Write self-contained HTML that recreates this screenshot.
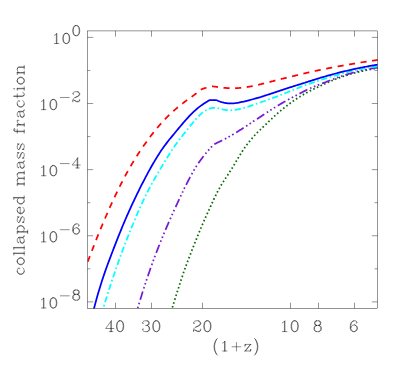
<!DOCTYPE html>
<html><head><meta charset="utf-8"><title>collapsed mass fraction</title>
<style>html,body{margin:0;padding:0;background:#fff;font-family:"Liberation Sans",sans-serif}svg{display:block}</style></head>
<body>
<svg width="407" height="370" viewBox="0 0 407 370">
<rect width="407" height="370" fill="#fff"/>
<defs><clipPath id="cp"><rect x="87.5" y="30.93" width="290.00" height="277.47"/></clipPath></defs>
<g clip-path="url(#cp)" fill="none" stroke-linecap="butt" stroke-linejoin="round">
<path d="M169.00 317.94 L169.19 317.34 M169.92 315.06 L170.00 314.79 L170.40 313.54 M171.12 311.26 L171.25 310.85 L171.60 309.74 M172.33 307.46 L172.50 306.91 L172.81 305.94 M173.53 303.66 L173.75 302.96 L174.01 302.14 M174.72 299.86 L174.75 299.78 L175.20 298.34 M175.92 296.06 L176.00 295.81 L176.40 294.54 M177.12 292.26 L177.25 291.86 L177.60 290.74 M178.33 288.46 L178.50 287.93 L178.82 286.94 M179.55 284.67 L179.75 284.06 L180.04 283.15 M180.79 280.88 L181.00 280.24 L181.29 279.37 M182.04 277.10 L182.25 276.49 L182.55 275.59 M183.33 273.33 L183.50 272.83 L183.85 271.82 M184.65 269.57 L184.75 269.28 L185.19 268.07 M186.00 265.82 L186.25 265.15 L186.56 264.32 M187.39 262.08 L187.50 261.80 L187.96 260.59 M188.81 258.36 L189.00 257.86 L189.38 256.87 M190.24 254.64 L190.25 254.62 L190.82 253.16 M191.69 250.93 L191.75 250.77 L192.27 249.44 M193.14 247.22 L193.25 246.95 L193.73 245.74 M194.61 243.51 L194.75 243.17 L195.20 242.03 M196.09 239.81 L196.25 239.43 L196.69 238.34 M197.59 236.12 L197.75 235.73 L198.20 234.65 M199.11 232.44 L199.25 232.09 L199.72 230.96 M200.64 228.76 L200.75 228.49 L201.26 227.29 M202.19 225.09 L202.25 224.95 L202.82 223.62 M203.77 221.43 L204.00 220.90 L204.41 219.97 M205.39 217.79 L205.53 217.49 L206.05 216.34 M207.04 214.16 L207.06 214.12 L207.71 212.71 M208.70 210.54 L208.85 210.23 L209.37 209.09 M210.37 206.92 L210.38 206.88 L211.03 205.47 M212.02 203.29 L212.17 202.98 L212.69 201.85 M213.70 199.68 L213.70 199.66 L214.37 198.23 M215.40 196.07 L215.49 195.88 L216.09 194.64 M217.15 192.50 L217.28 192.25 L217.88 191.08 M219.00 188.96 L219.07 188.84 L219.78 187.57 M220.97 185.50 L221.13 185.24 L221.79 184.14 M223.05 182.10 L223.19 181.89 L223.91 180.76 M225.21 178.75 L225.24 178.71 L226.01 177.55 L226.09 177.42 M227.41 175.43 L227.55 175.23 L228.29 174.10 M229.61 172.11 L229.85 171.73 L230.48 170.77 M231.76 168.75 L231.91 168.52 L232.60 167.40 M233.84 165.36 L233.96 165.16 L234.66 163.99 M235.88 161.93 L236.02 161.69 L236.69 160.56 M237.88 158.48 L238.03 158.23 L238.68 157.11 M239.91 155.06 L240.00 154.92 L240.74 153.72 L240.75 153.70 M242.04 151.68 L242.21 151.41 L242.91 150.35 M244.26 148.37 L244.43 148.12 L245.17 147.07 L245.17 147.07 M246.58 145.13 L246.65 145.03 L247.39 144.05 L247.53 143.86 M249.00 141.97 L249.12 141.83 L249.86 140.91 L250.00 140.73 M251.53 138.89 L251.58 138.83 L252.32 137.97 L252.57 137.68 M254.16 135.90 L254.28 135.76 L255.02 134.97 L255.24 134.73 M256.89 133.00 L256.98 132.91 L257.72 132.16 L258.02 131.87 M259.73 130.20 L259.93 130.00 L260.67 129.29 L260.88 129.10 M262.62 127.46 L262.63 127.44 L263.36 126.76 L263.78 126.36 M265.52 124.73 L265.55 124.70 L266.28 124.01 L266.68 123.63 M268.41 121.98 L268.46 121.92 L269.19 121.22 L269.56 120.87 M271.28 119.21 L271.38 119.12 L272.11 118.41 L272.42 118.11 M274.15 116.45 L274.29 116.31 L275.02 115.61 L275.31 115.35 M277.10 113.77 L277.25 113.64 L278.00 112.98 L278.30 112.72 M280.12 111.17 L280.25 111.06 L281.00 110.42 L281.34 110.14 M283.18 108.62 L283.25 108.56 L284.00 107.96 L284.42 107.62 M286.30 106.15 L286.50 106.00 L287.25 105.43 L287.57 105.18 M289.50 103.77 L289.50 103.77 L290.25 103.22 L290.78 102.82 M292.72 101.42 L292.75 101.40 L293.50 100.87 L294.03 100.51 M296.00 99.16 L296.25 98.99 L297.00 98.49 L297.33 98.28 M299.34 96.98 L299.50 96.88 L300.25 96.41 L300.69 96.14 M302.73 94.89 L302.75 94.88 L303.50 94.44 L304.11 94.08 M306.19 92.91 L306.25 92.87 L307.00 92.47 L307.59 92.15 M309.71 91.04 L309.75 91.01 L310.50 90.63 L311.12 90.31 M313.26 89.24 L313.50 89.13 L314.25 88.76 L314.70 88.54 M316.86 87.52 L317.00 87.45 L317.75 87.10 L318.30 86.84 M320.47 85.84 L320.50 85.82 L321.25 85.46 L321.91 85.15 M324.07 84.13 L324.25 84.04 L325.00 83.70 L325.52 83.46 M327.69 82.47 L327.75 82.44 L328.50 82.11 L329.15 81.82 M331.34 80.87 L331.50 80.80 L332.25 80.48 L332.81 80.24 M335.01 79.32 L335.25 79.23 L336.00 78.95 L336.51 78.76 M338.75 77.93 L339.00 77.84 L339.75 77.58 L340.25 77.40 M342.51 76.62 L342.75 76.54 L343.50 76.30 L344.03 76.12 M346.31 75.40 L346.50 75.34 L347.25 75.11 L347.83 74.93 M350.12 74.26 L350.25 74.22 L351.00 74.00 L351.65 73.80 M353.95 73.14 L354.00 73.12 L354.75 72.92 L355.48 72.72 M357.80 72.12 L358.00 72.07 L358.75 71.89 L359.35 71.75 M361.68 71.22 L361.75 71.21 L362.50 71.05 L363.24 70.90 M365.59 70.42 L365.75 70.38 L366.50 70.21 L367.14 70.06 M369.48 69.57 L369.50 69.57 L370.25 69.42 L371.00 69.28 L371.04 69.27 M373.40 68.87 L373.50 68.85 L374.25 68.73 L374.98 68.63 M377.35 68.31 L377.50 68.29 L378.25 68.25 L378.94 68.21" stroke="#0a6b0a" stroke-width="1.75"/>
<path d="M134.60 318.85 L134.85 317.99 L135.60 315.42 L135.68 315.16 M136.52 312.28 L136.60 311.99 L136.96 310.75 M137.69 308.25 L137.85 307.71 L138.14 306.72 M138.88 304.22 L139.10 303.49 L139.34 302.69 M140.21 299.82 L140.35 299.34 L141.10 296.90 L141.85 294.48 L142.60 292.09 L142.81 291.41 M143.72 288.55 L143.85 288.16 L144.21 287.03 M145.02 284.56 L145.10 284.31 L145.52 283.04 M146.33 280.57 L146.35 280.52 L146.84 279.05 M147.80 276.21 L147.85 276.08 L148.60 273.89 L149.35 271.72 L150.10 269.58 L150.69 267.90 M151.70 265.07 L151.85 264.67 L152.25 263.57 M153.14 261.13 L153.35 260.55 L153.69 259.63 M154.60 257.19 L154.60 257.18 L155.16 255.69 M156.22 252.88 L156.35 252.55 L157.10 250.60 L157.85 248.67 L158.60 246.75 L159.35 244.85 L159.41 244.68 M160.53 241.90 L160.60 241.71 L161.12 240.41 M162.10 238.00 L162.35 237.40 L162.71 236.52 M163.70 234.12 L163.85 233.77 L164.32 232.64 M165.48 229.88 L165.60 229.59 L166.35 227.83 L167.10 226.07 L167.85 224.33 L168.60 222.59 L168.95 221.79 M170.16 219.04 L170.36 218.59 L170.81 217.58 M171.87 215.21 L171.88 215.19 L172.53 213.75 M173.61 211.39 L173.66 211.28 L174.27 209.93 M175.52 207.20 L175.69 206.85 L176.45 205.19 L177.21 203.55 L177.97 201.91 L178.73 200.27 L179.22 199.22 M180.49 196.50 L180.51 196.47 L181.17 195.05 M182.28 192.70 L182.28 192.70 L182.97 191.26 M184.10 188.91 L184.32 188.45 L184.80 187.48 M186.13 184.79 L186.38 184.30 L187.15 182.77 L187.92 181.26 L188.69 179.78 L189.46 178.31 L190.17 176.97 M191.60 174.34 L191.76 174.05 L192.39 172.94 M193.69 170.69 L193.81 170.48 L194.50 169.31 M195.87 167.10 L196.11 166.71 L196.72 165.75 M198.38 163.25 L198.41 163.20 L199.17 162.09 L199.94 161.01 L200.70 159.95 L201.43 158.92 L202.17 157.92 L202.90 156.95 L203.54 156.12 M205.43 153.79 L205.60 153.58 L206.34 152.71 L206.46 152.57 M208.17 150.61 L208.31 150.45 L209.04 149.62 L209.23 149.41 M210.98 147.48 L211.01 147.44 L211.75 146.68 L212.09 146.34 M214.37 144.39 L214.46 144.32 L215.21 143.83 L215.95 143.40 L216.70 143.02 L217.44 142.66 L218.18 142.32 L218.93 141.98 L219.67 141.63 L220.42 141.27 L221.16 140.91 L221.91 140.54 L222.20 140.40 M224.87 139.02 L224.89 139.01 L225.63 138.61 L226.28 138.26 M228.55 137.01 L228.60 136.98 L229.35 136.55 L229.94 136.21 M232.19 134.91 L232.32 134.83 L233.07 134.39 L233.56 134.09 M236.13 132.53 L236.29 132.43 L237.03 131.97 L237.77 131.51 L238.52 131.05 L239.26 130.58 L240.00 130.11 L240.74 129.64 L241.49 129.17 L242.23 128.69 L242.97 128.22 L243.57 127.83 M246.09 126.20 L246.19 126.13 L246.93 125.65 L247.43 125.33 M249.60 123.90 L249.66 123.86 L250.40 123.38 L250.94 123.02 M253.11 121.59 L253.12 121.58 L253.87 121.09 L254.44 120.71 M256.94 119.05 L257.10 118.95 L257.85 118.46 L258.60 117.97 L259.35 117.47 L260.10 116.98 L260.85 116.49 L261.60 115.99 L262.35 115.49 L263.10 115.00 L263.85 114.50 L264.29 114.21 M266.80 112.57 L266.85 112.54 L267.60 112.05 L268.14 111.69 M270.32 110.28 L270.35 110.26 L271.10 109.78 L271.67 109.42 M273.86 108.02 L274.10 107.87 L274.85 107.39 L275.22 107.17 M277.79 105.62 L277.85 105.58 L278.60 105.13 L279.35 104.69 L280.10 104.24 L280.85 103.80 L281.60 103.37 L282.35 102.93 L283.10 102.50 L283.85 102.07 L284.60 101.65 L285.35 101.22 L285.39 101.20 M288.01 99.72 L288.10 99.67 L288.85 99.25 L289.41 98.94 M291.71 97.74 L291.85 97.67 L292.60 97.29 L293.14 97.01 M295.45 95.82 L295.60 95.74 L296.35 95.35 L296.86 95.08 M299.51 93.67 L299.60 93.62 L300.35 93.22 L301.10 92.81 L301.85 92.41 L302.60 92.01 L303.35 91.62 L304.10 91.24 L304.85 90.87 L305.60 90.48 L306.35 90.09 L307.10 89.71 L307.31 89.60 M310.03 88.32 L310.10 88.29 L310.85 87.96 L311.49 87.68 M313.90 86.69 L314.10 86.60 L314.85 86.31 L315.38 86.10 M317.81 85.17 L317.85 85.15 L318.60 84.87 L319.31 84.60 M322.11 83.52 L322.35 83.42 L323.10 83.13 L323.85 82.83 L324.60 82.53 L325.35 82.24 L326.10 81.94 L326.85 81.64 L327.60 81.34 L328.35 81.04 L329.10 80.74 L329.85 80.44 L330.28 80.27 M333.07 79.16 L333.10 79.15 L333.85 78.86 L334.56 78.58 M337.01 77.70 L337.10 77.66 L337.85 77.40 L338.52 77.17 M340.98 76.33 L341.10 76.29 L341.85 76.04 L342.50 75.83 M345.35 74.90 L345.60 74.83 L346.35 74.59 L347.10 74.36 L347.85 74.13 L348.60 73.91 L349.35 73.69 L350.10 73.47 L350.85 73.24 L351.60 73.01 L352.35 72.79 L353.10 72.57 L353.78 72.37 M356.68 71.59 L356.85 71.54 L357.60 71.35 L358.23 71.20 M360.76 70.61 L360.85 70.59 L361.60 70.43 L362.32 70.28 M364.88 69.80 L365.10 69.75 L365.85 69.58 L366.44 69.44 M369.38 68.85 L369.60 68.81 L370.35 68.67 L371.10 68.55 L371.85 68.43 L372.60 68.32 L373.35 68.22 L374.10 68.13 L374.85 68.05 L375.60 67.97 L376.35 67.90 L377.10 67.84 L377.85 67.82 L378.11 67.81" stroke="#761cd2" stroke-width="1.75"/>
<path d="M100.20 318.40 L100.45 317.57 L100.50 317.42 M101.26 314.87 L101.45 314.23 L102.20 311.73 L102.95 309.23 L103.04 308.93 M103.80 306.40 L103.95 305.90 L104.26 304.86 M105.04 302.32 L105.20 301.78 L105.96 299.33 L106.72 296.90 L106.88 296.40 M107.68 293.88 L107.75 293.68 L108.17 292.35 M108.98 289.83 L109.03 289.69 L109.80 287.32 L110.56 284.97 L110.90 283.93 M111.73 281.41 L111.84 281.08 L112.24 279.90 M113.08 277.38 L113.12 277.24 L113.89 274.96 L114.65 272.70 L115.06 271.50 M115.92 269.00 L115.93 268.96 L116.44 267.49 M117.31 264.98 L117.47 264.54 L118.23 262.36 L119.00 260.19 L119.38 259.13 M120.28 256.64 L120.29 256.62 L120.83 255.14 M121.75 252.65 L121.85 252.40 L122.62 250.31 L123.40 248.24 L123.93 246.84 M124.87 244.36 L124.95 244.16 L125.44 242.87 M126.40 240.39 L126.50 240.15 L127.27 238.17 L128.05 236.21 L128.68 234.63 M129.67 232.17 L129.85 231.71 L130.27 230.69 M131.28 228.23 L131.40 227.93 L132.17 226.07 L132.95 224.23 L133.67 222.51 M134.72 220.08 L134.75 220.00 L135.33 218.60 M136.35 216.15 L136.47 215.87 L137.21 214.14 L137.94 212.42 L138.68 210.72 L138.80 210.45 M139.87 208.03 L139.91 207.94 L140.52 206.57 M141.62 204.15 L141.63 204.12 L142.37 202.52 L143.11 200.94 L143.85 199.38 L144.25 198.53 M145.40 196.15 L145.57 195.81 L146.11 194.71 M147.30 192.34 L147.54 191.87 L148.28 190.43 L149.02 189.01 L149.76 187.60 L150.16 186.84 M151.42 184.51 L151.48 184.38 L152.18 183.10 M153.47 180.78 L153.70 180.36 L154.46 179.04 L155.21 177.73 L155.97 176.43 L156.57 175.41 M157.91 173.12 L157.99 172.98 L158.72 171.75 M160.08 169.46 L160.27 169.14 L161.02 167.86 L161.78 166.58 L162.54 165.31 L163.24 164.13 M164.60 161.86 L164.81 161.51 L165.43 160.48 M166.81 158.22 L166.83 158.18 L167.59 156.94 L168.35 155.72 L169.10 154.51 L169.86 153.31 L170.09 152.95 M171.52 150.73 L171.63 150.57 L172.38 149.42 L172.40 149.39 M173.88 147.19 L173.90 147.17 L174.65 146.07 L175.41 145.00 L176.17 143.94 L176.92 142.91 L177.49 142.14 M179.08 140.03 L179.19 139.88 L179.95 138.90 L180.06 138.76 M181.69 136.67 L181.71 136.64 L182.47 135.69 L183.22 134.73 L183.98 133.79 L184.73 132.84 L185.49 131.89 L185.55 131.81 M187.20 129.74 L187.25 129.67 L188.00 128.72 L188.19 128.48 M189.84 126.41 L190.00 126.21 L190.75 125.28 L191.50 124.35 L192.25 123.44 L193.00 122.53 L193.75 121.64 L193.77 121.61 M195.51 119.61 L195.75 119.34 L196.50 118.51 L196.58 118.42 M198.41 116.49 L198.50 116.40 L199.25 115.65 L200.00 114.93 L200.75 114.23 L201.50 113.56 L202.25 112.93 L202.99 112.33 M205.15 110.79 L205.25 110.72 L206.00 110.26 L206.52 109.96 M208.92 108.84 L209.00 108.81 L209.75 108.54 L210.50 108.32 L211.25 108.13 L212.00 107.98 L212.75 107.87 L213.50 107.80 L214.25 107.77 L214.99 107.78 M217.61 108.12 L217.75 108.14 L218.50 108.32 L219.17 108.48 M221.73 109.19 L221.75 109.19 L222.50 109.39 L223.25 109.56 L224.00 109.72 L224.75 109.86 L225.50 109.97 L226.25 110.07 L227.00 110.15 L227.75 110.20 L227.83 110.21 M230.48 110.26 L230.50 110.26 L231.25 110.24 L232.00 110.20 L232.08 110.20 M234.72 109.94 L234.75 109.94 L235.50 109.83 L236.25 109.72 L237.00 109.59 L237.75 109.45 L238.50 109.30 L239.25 109.13 L240.00 108.96 L240.75 108.79 L240.81 108.77 M243.37 108.11 L243.50 108.07 L244.25 107.86 L244.91 107.67 M247.45 106.89 L247.50 106.87 L248.25 106.63 L249.00 106.38 L249.75 106.13 L250.50 105.88 L251.25 105.63 L252.00 105.37 L252.75 105.12 L253.33 104.91 M255.83 104.03 L256.00 103.97 L256.75 103.70 L257.33 103.49 M259.82 102.57 L260.00 102.51 L260.75 102.26 L261.50 102.00 L262.25 101.75 L263.00 101.49 L263.75 101.23 L264.50 100.97 L265.25 100.71 L265.69 100.56 M268.19 99.67 L268.25 99.65 L269.00 99.38 L269.69 99.14 M272.19 98.24 L272.25 98.22 L273.00 97.94 L273.75 97.67 L274.50 97.40 L275.25 97.12 L276.00 96.82 L276.75 96.52 L277.50 96.22 L277.98 96.02 M280.44 95.04 L280.50 95.01 L281.25 94.71 L281.93 94.44 M284.39 93.45 L284.50 93.41 L285.25 93.11 L286.00 92.81 L286.75 92.51 L287.50 92.21 L288.25 91.91 L289.00 91.61 L289.75 91.32 L290.15 91.16 M292.60 90.16 L292.75 90.10 L293.50 89.79 L294.09 89.56 M296.55 88.57 L296.75 88.49 L297.50 88.19 L298.25 87.89 L299.00 87.60 L299.75 87.31 L300.50 87.01 L301.25 86.72 L302.00 86.43 L302.32 86.31 M304.80 85.37 L305.00 85.29 L305.75 85.02 L306.31 84.83 M308.81 83.95 L309.00 83.88 L309.75 83.62 L310.50 83.37 L311.25 83.11 L312.00 82.86 L312.75 82.60 L313.50 82.35 L314.25 82.10 L314.68 81.96 M317.20 81.14 L317.25 81.12 L318.00 80.88 L318.73 80.65 M321.25 79.83 L321.50 79.76 L322.25 79.51 L323.00 79.27 L323.75 79.04 L324.50 78.80 L325.25 78.57 L326.00 78.33 L326.75 78.10 L327.17 77.97 M329.71 77.21 L329.75 77.20 L330.50 76.98 L331.24 76.76 M333.79 76.03 L334.00 75.97 L334.75 75.76 L335.50 75.53 L336.25 75.30 L337.00 75.07 L337.75 74.84 L338.50 74.62 L339.25 74.39 L339.73 74.25 M342.28 73.51 L342.50 73.45 L343.25 73.23 L343.82 73.07 M346.38 72.37 L346.50 72.34 L347.25 72.13 L348.00 71.94 L348.75 71.74 L349.50 71.54 L350.25 71.36 L351.00 71.18 L351.75 71.01 L352.39 70.86 M354.98 70.29 L355.00 70.28 L355.75 70.12 L356.50 69.96 L356.54 69.95 M359.14 69.42 L359.25 69.40 L360.00 69.25 L360.75 69.10 L361.50 68.96 L362.25 68.82 L363.00 68.68 L363.75 68.54 L364.50 68.41 L365.24 68.28 M367.85 67.82 L368.00 67.79 L368.75 67.66 L369.42 67.55 M372.05 67.13 L372.25 67.10 L373.00 66.99 L373.75 66.88 L374.50 66.77 L375.25 66.67 L376.00 66.57 L376.75 66.47 L377.50 66.37 L378.19 66.29" stroke="#00ffff" stroke-width="1.75"/>
<path d="M91.00 320.16 L92.00 316.27 L93.00 312.37 L94.00 308.48 L95.00 304.64 L96.00 300.93 L97.00 297.32 L98.00 293.83 L99.00 290.44 L100.00 287.14 L101.00 283.93 L102.00 280.81 L103.00 277.77 L104.00 274.80 L105.00 271.90 L106.00 269.06 L107.00 266.28 L108.00 263.55 L109.00 260.86 L109.99 258.22 L110.97 255.60 L111.95 253.02 L112.93 250.46 L113.91 247.91 L114.89 245.39 L115.87 242.88 L116.85 240.38 L117.83 237.91 L118.82 235.45 L119.80 233.01 L120.78 230.58 L121.76 228.18 L122.74 225.79 L123.73 223.42 L124.71 221.07 L125.71 218.74 L126.73 216.43 L127.74 214.14 L128.76 211.87 L129.78 209.62 L130.79 207.38 L131.81 205.17 L132.83 202.98 L133.84 200.81 L134.86 198.66 L135.88 196.53 L136.89 194.42 L137.91 192.34 L138.92 190.27 L139.94 188.23 L140.95 186.21 L141.97 184.21 L142.98 182.24 L144.00 180.28 L145.00 178.36 L146.00 176.45 L147.00 174.57 L148.00 172.71 L149.00 170.88 L150.00 169.06 L151.00 167.28 L152.00 165.52 L153.00 163.78 L154.00 162.07 L155.00 160.38 L156.00 158.72 L157.00 157.09 L158.00 155.48 L159.00 153.91 L160.00 152.36 L161.00 150.86 L162.00 149.38 L163.00 147.95 L164.00 146.56 L165.00 145.20 L166.00 143.88 L167.00 142.59 L168.00 141.32 L169.00 140.06 L170.00 138.82 L171.00 137.59 L172.00 136.37 L173.00 135.15 L174.00 133.93 L175.00 132.72 L176.00 131.51 L177.00 130.30 L178.00 129.09 L179.00 127.89 L180.00 126.70 L181.00 125.51 L182.00 124.33 L183.00 123.17 L184.00 122.01 L185.00 120.87 L186.00 119.75 L187.00 118.64 L188.00 117.54 L189.00 116.47 L190.00 115.42 L191.00 114.39 L192.00 113.38 L193.00 112.40 L194.00 111.45 L195.00 110.52 L196.00 109.62 L197.00 108.75 L198.00 107.92 L199.00 107.11 L200.00 106.34 L201.00 105.61 L202.00 104.91 L203.00 104.23 L204.00 103.57 L205.00 102.93 L206.00 102.30 L207.00 101.67 L208.00 101.03 L209.00 100.39 L209.80 100.19 L210.80 100.16 L211.80 100.13 L212.80 100.10 L213.80 100.07 L214.80 100.04 L215.80 100.01 L216.80 100.25 L217.80 100.71 L218.80 101.14 L219.80 101.53 L220.80 101.88 L221.80 102.19 L222.80 102.47 L223.80 102.71 L224.80 102.91 L225.80 103.09 L226.80 103.22 L227.80 103.33 L228.80 103.40 L229.80 103.44 L230.80 103.45 L231.80 103.43 L232.80 103.38 L233.80 103.31 L234.80 103.21 L235.80 103.08 L236.80 102.94 L237.80 102.77 L238.80 102.59 L239.80 102.39 L240.80 102.19 L241.80 101.98 L242.80 101.77 L243.80 101.54 L244.80 101.30 L245.80 101.06 L246.80 100.81 L247.80 100.56 L248.80 100.30 L249.80 100.05 L250.80 99.78 L251.80 99.52 L252.80 99.25 L253.80 98.98 L254.80 98.70 L255.80 98.43 L256.80 98.15 L257.80 97.86 L258.80 97.58 L259.80 97.29 L260.80 96.98 L261.80 96.66 L262.80 96.34 L263.80 96.02 L264.80 95.70 L265.80 95.37 L266.80 95.04 L267.80 94.72 L268.80 94.39 L269.80 94.05 L270.80 93.72 L271.80 93.39 L272.80 93.05 L273.80 92.72 L274.80 92.38 L275.80 92.05 L276.80 91.72 L277.80 91.39 L278.80 91.06 L279.80 90.74 L280.80 90.41 L281.80 90.08 L282.80 89.75 L283.80 89.42 L284.80 89.09 L285.80 88.76 L286.80 88.43 L287.80 88.10 L288.80 87.77 L289.80 87.45 L290.80 87.13 L291.80 86.81 L292.80 86.49 L293.80 86.18 L294.80 85.86 L295.80 85.54 L296.80 85.23 L297.80 84.92 L298.80 84.60 L299.80 84.29 L300.80 83.98 L301.80 83.67 L302.80 83.35 L303.80 83.04 L304.80 82.74 L305.80 82.41 L306.80 82.09 L307.80 81.77 L308.80 81.45 L309.80 81.12 L310.80 80.80 L311.80 80.49 L312.80 80.17 L313.80 79.85 L314.80 79.54 L315.80 79.22 L316.80 78.91 L317.80 78.60 L318.80 78.29 L319.80 77.98 L320.80 77.69 L321.80 77.39 L322.80 77.10 L323.80 76.81 L324.80 76.52 L325.80 76.23 L326.80 75.95 L327.80 75.67 L328.80 75.39 L329.80 75.11 L330.80 74.83 L331.80 74.56 L332.80 74.29 L333.80 74.02 L334.80 73.76 L335.80 73.49 L336.80 73.23 L337.80 72.97 L338.80 72.71 L339.80 72.45 L340.80 72.20 L341.80 71.95 L342.80 71.70 L343.80 71.46 L344.80 71.22 L345.80 70.98 L346.80 70.75 L347.80 70.52 L348.80 70.29 L349.80 70.07 L350.80 69.84 L351.80 69.60 L352.80 69.37 L353.80 69.15 L354.80 68.93 L355.80 68.71 L356.80 68.49 L357.80 68.28 L358.80 68.08 L359.80 67.88 L360.80 67.68 L361.80 67.49 L362.80 67.30 L363.80 67.11 L364.80 66.93 L365.80 66.74 L366.80 66.54 L367.80 66.35 L368.80 66.16 L369.80 65.97 L370.80 65.80 L371.80 65.62 L372.80 65.45 L373.80 65.29 L374.80 65.13 L375.80 64.98 L376.80 64.83 L377.80 64.70 L378.80 64.59 L379.80 64.49" stroke="#0000ff" stroke-width="1.75"/>
<path d="M84.50 270.34 L84.75 269.67 L85.50 267.67 L85.76 266.98 M87.71 261.78 L87.75 261.67 L88.50 259.68 L89.25 257.70 L89.87 256.07 M91.85 250.89 L92.00 250.51 L92.75 248.57 L93.50 246.65 L94.06 245.20 M96.10 240.04 L96.25 239.68 L97.00 237.80 L97.75 235.94 L98.38 234.38 M100.48 229.25 L100.50 229.19 L101.25 227.38 L102.00 225.57 L102.75 223.78 L102.82 223.61 M104.99 218.50 L105.00 218.48 L105.75 216.74 L106.50 215.01 L107.25 213.29 L107.42 212.91 M109.66 207.83 L109.75 207.64 L110.50 205.97 L111.25 204.32 L112.00 202.68 L112.18 202.28 M114.52 197.25 L114.75 196.77 L115.50 195.18 L116.25 193.62 L117.00 192.06 L117.15 191.74 M119.60 186.76 L119.75 186.47 L120.50 184.98 L121.25 183.50 L122.00 182.03 L122.37 181.32 M124.95 176.41 L125.00 176.31 L125.75 174.92 L126.50 173.53 L127.25 172.17 L127.87 171.05 M130.61 166.23 L130.75 165.99 L131.50 164.70 L132.25 163.43 L133.00 162.18 L133.72 160.98 M136.66 156.27 L136.75 156.12 L137.50 154.95 L138.25 153.79 L139.00 152.65 L139.75 151.51 L139.98 151.16 M143.11 146.57 L143.25 146.37 L144.00 145.30 L144.75 144.23 L145.50 143.18 L146.25 142.14 L146.64 141.60 M149.94 137.14 L150.00 137.07 L150.75 136.08 L151.50 135.09 L152.25 134.12 L153.00 133.16 L153.67 132.31 M157.16 128.00 L157.25 127.89 L158.00 127.00 L158.75 126.12 L159.50 125.25 L160.25 124.39 L161.00 123.55 L161.15 123.38 M164.92 119.31 L165.00 119.23 L165.75 118.46 L166.50 117.69 L167.25 116.94 L168.00 116.19 L168.75 115.46 L169.23 114.99 M173.29 111.21 L173.50 111.02 L174.25 110.35 L175.00 109.69 L175.75 109.04 L176.50 108.40 L177.25 107.76 L177.90 107.22 M182.22 103.73 L182.25 103.70 L183.00 103.11 L183.75 102.54 L184.50 101.96 L185.25 101.40 L186.00 100.84 L186.75 100.28 L187.08 100.04 M191.59 96.81 L191.75 96.70 L192.50 96.17 L193.25 95.64 L194.00 95.10 L194.75 94.55 L195.50 93.99 L196.25 93.42 L196.51 93.21 M200.83 89.73 L201.00 89.62 L201.75 89.22 L202.50 88.90 L203.25 88.63 L204.00 88.40 L204.75 88.20 L205.50 87.99 L206.25 87.78 L206.55 87.68 M211.94 86.46 L212.00 86.46 L212.75 86.46 L213.50 86.50 L214.25 86.56 L215.00 86.65 L215.75 86.75 L216.50 86.86 L217.25 86.98 L218.00 87.09 M223.50 87.77 L223.75 87.79 L224.50 87.86 L225.25 87.92 L226.00 87.98 L226.75 88.03 L227.50 88.08 L228.25 88.12 L229.00 88.15 L229.59 88.17 M235.14 88.19 L235.25 88.19 L236.00 88.16 L236.75 88.13 L237.50 88.09 L238.25 88.05 L239.00 88.00 L239.75 87.94 L240.50 87.87 L241.23 87.80 M246.73 87.08 L246.75 87.08 L247.50 86.96 L248.25 86.84 L249.00 86.71 L249.75 86.57 L250.50 86.44 L251.25 86.29 L252.00 86.15 L252.73 86.00 M258.15 84.80 L258.25 84.78 L259.00 84.60 L259.75 84.42 L260.50 84.24 L261.25 84.07 L262.00 83.89 L262.75 83.71 L263.50 83.53 L264.08 83.39 M269.46 82.02 L269.50 82.01 L270.25 81.82 L271.00 81.62 L271.75 81.42 L272.50 81.23 L273.25 81.03 L274.00 80.83 L274.75 80.63 L275.36 80.47 M280.75 79.13 L280.75 79.13 L281.50 78.95 L282.25 78.76 L283.00 78.58 L283.75 78.40 L284.50 78.22 L285.25 78.04 L286.00 77.86 L286.68 77.70 M292.07 76.40 L292.25 76.36 L293.00 76.17 L293.75 75.98 L294.50 75.80 L295.25 75.61 L296.00 75.43 L296.75 75.24 L297.50 75.06 L298.00 74.94 M303.40 73.66 L303.50 73.64 L304.25 73.46 L305.00 73.29 L305.75 73.11 L306.50 72.94 L307.25 72.76 L308.00 72.59 L308.75 72.42 L309.34 72.28 M314.75 71.06 L315.00 71.01 L315.75 70.84 L316.50 70.68 L317.25 70.52 L318.00 70.35 L318.75 70.19 L319.50 70.03 L320.25 69.87 L320.72 69.78 M326.16 68.68 L326.25 68.66 L327.00 68.52 L327.75 68.37 L328.50 68.22 L329.25 68.08 L330.00 67.94 L330.75 67.79 L331.50 67.65 L332.15 67.53 M337.60 66.51 L337.75 66.48 L338.50 66.34 L339.25 66.20 L340.00 66.07 L340.75 65.93 L341.50 65.79 L342.25 65.66 L343.00 65.52 L343.60 65.42 M349.07 64.46 L349.25 64.43 L350.00 64.30 L350.75 64.17 L351.50 64.04 L352.25 63.91 L353.00 63.79 L353.75 63.66 L354.50 63.53 L355.08 63.43 M360.56 62.53 L360.75 62.50 L361.50 62.37 L362.25 62.25 L363.00 62.13 L363.75 62.01 L364.50 61.89 L365.25 61.78 L366.00 61.66 L366.58 61.57 M372.07 60.76 L372.25 60.74 L373.00 60.63 L373.75 60.52 L374.50 60.41 L375.25 60.30 L376.00 60.20 L376.75 60.09 L377.50 59.99 L378.11 59.90" stroke="#ff0000" stroke-width="1.75"/>
</g>
<g fill="none" stroke="#000000" stroke-width="0.42">
<rect x="87.5" y="30.93" width="290.00" height="277.47"/>
<path d="M115.50 308.4 V302.70 M115.50 30.93 V36.63 M151.50 308.4 V302.70 M151.50 30.93 V36.63 M202.50 308.4 V302.70 M202.50 30.93 V36.63 M290.50 308.4 V302.70 M290.50 30.93 V36.63 M318.50 308.4 V302.70 M318.50 30.93 V36.63 M354.50 308.4 V302.70 M354.50 30.93 V36.63 M87.5 37.40 H93.20 M377.5 37.40 H371.80 M87.5 70.46 H90.40 M377.5 70.46 H374.60 M87.5 103.52 H93.20 M377.5 103.52 H371.80 M87.5 136.58 H90.40 M377.5 136.58 H374.60 M87.5 169.64 H93.20 M377.5 169.64 H371.80 M87.5 202.70 H90.40 M377.5 202.70 H374.60 M87.5 235.76 H93.20 M377.5 235.76 H371.80 M87.5 268.82 H90.40 M377.5 268.82 H374.60 M87.5 301.88 H93.20 M377.5 301.88 H371.80"/>
</g>
<g fill="none" stroke="#000000" stroke-width="0.45" stroke-linecap="round" stroke-linejoin="round">
<path transform="translate(104.65 331.6)" d="M6.18 -9.79 L6.18 0.00 M6.70 -10.81 L6.70 0.00 M6.70 -10.81 L1.03 -3.09 L9.27 -3.09 M4.64 0.00 L8.24 0.00 M14.94 -10.81 L13.39 -10.30 L12.36 -8.76 L11.85 -6.18 L11.85 -4.63 L12.36 -2.06 L13.39 -0.52 L14.94 0.00 L15.97 0.00 L17.51 -0.52 L18.54 -2.06 L19.05 -4.63 L19.05 -6.18 L18.54 -8.76 L17.51 -10.30 L15.97 -10.81 L14.94 -10.81 M14.94 -10.81 L13.91 -10.30 L13.39 -9.79 L12.88 -8.76 L12.36 -6.18 L12.36 -4.63 L12.88 -2.06 L13.39 -1.03 L13.91 -0.52 L14.94 0.00 M15.97 0.00 L17.00 -0.52 L17.51 -1.03 L18.03 -2.06 L18.54 -4.63 L18.54 -6.18 L18.03 -8.76 L17.51 -9.79 L17.00 -10.30 L15.97 -10.81"/>
<path transform="translate(140.89 331.6)" d="M2.06 -8.76 L2.58 -8.24 L2.06 -7.73 L1.55 -8.24 L1.55 -8.76 L2.06 -9.79 L2.58 -10.30 L4.12 -10.81 L6.18 -10.81 L7.73 -10.30 L8.24 -9.27 L8.24 -7.73 L7.73 -6.70 L6.18 -6.18 L4.64 -6.18 M6.18 -10.81 L7.21 -10.30 L7.73 -9.27 L7.73 -7.73 L7.21 -6.70 L6.18 -6.18 M6.18 -6.18 L7.21 -5.67 L8.24 -4.63 L8.76 -3.60 L8.76 -2.06 L8.24 -1.03 L7.73 -0.52 L6.18 0.00 L4.12 0.00 L2.58 -0.52 L2.06 -1.03 L1.55 -2.06 L1.55 -2.58 L2.06 -3.09 L2.58 -2.58 L2.06 -2.06 M7.73 -5.15 L8.24 -3.60 L8.24 -2.06 L7.73 -1.03 L7.21 -0.52 L6.18 0.00 M14.94 -10.81 L13.39 -10.30 L12.36 -8.76 L11.85 -6.18 L11.85 -4.63 L12.36 -2.06 L13.39 -0.52 L14.94 0.00 L15.97 0.00 L17.51 -0.52 L18.54 -2.06 L19.05 -4.63 L19.05 -6.18 L18.54 -8.76 L17.51 -10.30 L15.97 -10.81 L14.94 -10.81 M14.94 -10.81 L13.91 -10.30 L13.39 -9.79 L12.88 -8.76 L12.36 -6.18 L12.36 -4.63 L12.88 -2.06 L13.39 -1.03 L13.91 -0.52 L14.94 0.00 M15.97 0.00 L17.00 -0.52 L17.51 -1.03 L18.03 -2.06 L18.54 -4.63 L18.54 -6.18 L18.03 -8.76 L17.51 -9.79 L17.00 -10.30 L15.97 -10.81"/>
<path transform="translate(191.95 331.6)" d="M2.06 -8.76 L2.58 -8.24 L2.06 -7.73 L1.55 -8.24 L1.55 -8.76 L2.06 -9.79 L2.58 -10.30 L4.12 -10.81 L6.18 -10.81 L7.73 -10.30 L8.24 -9.79 L8.76 -8.76 L8.76 -7.73 L8.24 -6.70 L6.70 -5.67 L4.12 -4.63 L3.09 -4.12 L2.06 -3.09 L1.55 -1.54 L1.55 0.00 M6.18 -10.81 L7.21 -10.30 L7.73 -9.79 L8.24 -8.76 L8.24 -7.73 L7.73 -6.70 L6.18 -5.67 L4.12 -4.63 M1.55 -1.03 L2.06 -1.54 L3.09 -1.54 L5.67 -0.52 L7.21 -0.52 L8.24 -1.03 L8.76 -1.54 M3.09 -1.54 L5.67 0.00 L7.73 0.00 L8.24 -0.52 L8.76 -1.54 L8.76 -2.58 M14.94 -10.81 L13.39 -10.30 L12.36 -8.76 L11.85 -6.18 L11.85 -4.63 L12.36 -2.06 L13.39 -0.52 L14.94 0.00 L15.97 0.00 L17.51 -0.52 L18.54 -2.06 L19.05 -4.63 L19.05 -6.18 L18.54 -8.76 L17.51 -10.30 L15.97 -10.81 L14.94 -10.81 M14.94 -10.81 L13.91 -10.30 L13.39 -9.79 L12.88 -8.76 L12.36 -6.18 L12.36 -4.63 L12.88 -2.06 L13.39 -1.03 L13.91 -0.52 L14.94 0.00 M15.97 0.00 L17.00 -0.52 L17.51 -1.03 L18.03 -2.06 L18.54 -4.63 L18.54 -6.18 L18.03 -8.76 L17.51 -9.79 L17.00 -10.30 L15.97 -10.81"/>
<path transform="translate(279.25 331.6)" d="M3.09 -8.76 L4.12 -9.27 L5.67 -10.81 L5.67 0.00 M5.15 -10.30 L5.15 0.00 M3.09 0.00 L7.73 0.00 M14.94 -10.81 L13.39 -10.30 L12.36 -8.76 L11.85 -6.18 L11.85 -4.63 L12.36 -2.06 L13.39 -0.52 L14.94 0.00 L15.97 0.00 L17.51 -0.52 L18.54 -2.06 L19.05 -4.63 L19.05 -6.18 L18.54 -8.76 L17.51 -10.30 L15.97 -10.81 L14.94 -10.81 M14.94 -10.81 L13.91 -10.30 L13.39 -9.79 L12.88 -8.76 L12.36 -6.18 L12.36 -4.63 L12.88 -2.06 L13.39 -1.03 L13.91 -0.52 L14.94 0.00 M15.97 0.00 L17.00 -0.52 L17.51 -1.03 L18.03 -2.06 L18.54 -4.63 L18.54 -6.18 L18.03 -8.76 L17.51 -9.79 L17.00 -10.30 L15.97 -10.81"/>
<path transform="translate(312.51 331.6)" d="M4.12 -10.81 L2.58 -10.30 L2.06 -9.27 L2.06 -7.73 L2.58 -6.70 L4.12 -6.18 L6.18 -6.18 L7.73 -6.70 L8.24 -7.73 L8.24 -9.27 L7.73 -10.30 L6.18 -10.81 L4.12 -10.81 M4.12 -10.81 L3.09 -10.30 L2.58 -9.27 L2.58 -7.73 L3.09 -6.70 L4.12 -6.18 M6.18 -6.18 L7.21 -6.70 L7.73 -7.73 L7.73 -9.27 L7.21 -10.30 L6.18 -10.81 M4.12 -6.18 L2.58 -5.67 L2.06 -5.15 L1.55 -4.12 L1.55 -2.06 L2.06 -1.03 L2.58 -0.52 L4.12 0.00 L6.18 0.00 L7.73 -0.52 L8.24 -1.03 L8.76 -2.06 L8.76 -4.12 L8.24 -5.15 L7.73 -5.67 L6.18 -6.18 M4.12 -6.18 L3.09 -5.67 L2.58 -5.15 L2.06 -4.12 L2.06 -2.06 L2.58 -1.03 L3.09 -0.52 L4.12 0.00 M6.18 0.00 L7.21 -0.52 L7.73 -1.03 L8.24 -2.06 L8.24 -4.12 L7.73 -5.15 L7.21 -5.67 L6.18 -6.18"/>
<path transform="translate(348.74 331.6)" d="M7.73 -9.27 L7.21 -8.76 L7.73 -8.24 L8.24 -8.76 L8.24 -9.27 L7.73 -10.30 L6.70 -10.81 L5.15 -10.81 L3.61 -10.30 L2.58 -9.27 L2.06 -8.24 L1.55 -6.18 L1.55 -3.09 L2.06 -1.54 L3.09 -0.52 L4.64 0.00 L5.67 0.00 L7.21 -0.52 L8.24 -1.54 L8.76 -3.09 L8.76 -3.60 L8.24 -5.15 L7.21 -6.18 L5.67 -6.70 L5.15 -6.70 L3.61 -6.18 L2.58 -5.15 L2.06 -3.60 M5.15 -10.81 L4.12 -10.30 L3.09 -9.27 L2.58 -8.24 L2.06 -6.18 L2.06 -3.09 L2.58 -1.54 L3.61 -0.52 L4.64 0.00 M5.67 0.00 L6.70 -0.52 L7.73 -1.54 L8.24 -3.09 L8.24 -3.60 L7.73 -5.15 L6.70 -6.18 L5.67 -6.70"/>
<path transform="translate(51.38 43.50)" d="M2.98 -8.21 L3.98 -8.69 L5.47 -10.14 L5.47 0.00 M4.97 -9.66 L4.97 0.00 M2.98 0.00 L7.46 0.00 M14.41 -10.14 L12.92 -9.66 L11.93 -8.21 L11.43 -5.80 L11.43 -4.35 L11.93 -1.93 L12.92 -0.48 L14.41 0.00 L15.41 0.00 L16.90 -0.48 L17.89 -1.93 L18.39 -4.35 L18.39 -5.80 L17.89 -8.21 L16.90 -9.66 L15.41 -10.14 L14.41 -10.14 M14.41 -10.14 L13.42 -9.66 L12.92 -9.18 L12.43 -8.21 L11.93 -5.80 L11.93 -4.35 L12.43 -1.93 L12.92 -0.97 L13.42 -0.48 L14.41 0.00 M15.41 0.00 L16.40 -0.48 L16.90 -0.97 L17.39 -1.93 L17.89 -4.35 L17.89 -5.80 L17.39 -8.21 L16.90 -9.18 L16.40 -9.66 L15.41 -10.14"/>
<path transform="translate(71.26 35.70)" d="M4.47 -10.14 L2.98 -9.66 L1.99 -8.21 L1.49 -5.80 L1.49 -4.35 L1.99 -1.93 L2.98 -0.48 L4.47 0.00 L5.47 0.00 L6.96 -0.48 L7.95 -1.93 L8.45 -4.35 L8.45 -5.80 L7.95 -8.21 L6.96 -9.66 L5.47 -10.14 L4.47 -10.14 M4.47 -10.14 L3.48 -9.66 L2.98 -9.18 L2.48 -8.21 L1.99 -5.80 L1.99 -4.35 L2.48 -1.93 L2.98 -0.97 L3.48 -0.48 L4.47 0.00 M5.47 0.00 L6.46 -0.48 L6.96 -0.97 L7.46 -1.93 L7.95 -4.35 L7.95 -5.80 L7.46 -8.21 L6.96 -9.18 L6.46 -9.66 L5.47 -10.14"/>
<path transform="translate(38.46 109.62)" d="M2.98 -8.21 L3.98 -8.69 L5.47 -10.14 L5.47 0.00 M4.97 -9.66 L4.97 0.00 M2.98 0.00 L7.46 0.00 M14.41 -10.14 L12.92 -9.66 L11.93 -8.21 L11.43 -5.80 L11.43 -4.35 L11.93 -1.93 L12.92 -0.48 L14.41 0.00 L15.41 0.00 L16.90 -0.48 L17.89 -1.93 L18.39 -4.35 L18.39 -5.80 L17.89 -8.21 L16.90 -9.66 L15.41 -10.14 L14.41 -10.14 M14.41 -10.14 L13.42 -9.66 L12.92 -9.18 L12.43 -8.21 L11.93 -5.80 L11.93 -4.35 L12.43 -1.93 L12.92 -0.97 L13.42 -0.48 L14.41 0.00 M15.41 0.00 L16.40 -0.48 L16.90 -0.97 L17.39 -1.93 L17.89 -4.35 L17.89 -5.80 L17.39 -8.21 L16.90 -9.18 L16.40 -9.66 L15.41 -10.14"/>
<path transform="translate(58.34 101.82)" d="M1.99 -4.35 L10.93 -4.35 M14.91 -8.21 L15.41 -7.73 L14.91 -7.25 L14.41 -7.73 L14.41 -8.21 L14.91 -9.18 L15.41 -9.66 L16.90 -10.14 L18.89 -10.14 L20.38 -9.66 L20.87 -9.18 L21.37 -8.21 L21.37 -7.25 L20.87 -6.28 L19.38 -5.31 L16.90 -4.35 L15.90 -3.86 L14.91 -2.90 L14.41 -1.45 L14.41 0.00 M18.89 -10.14 L19.88 -9.66 L20.38 -9.18 L20.87 -8.21 L20.87 -7.25 L20.38 -6.28 L18.89 -5.31 L16.90 -4.35 M14.41 -0.97 L14.91 -1.45 L15.90 -1.45 L18.39 -0.48 L19.88 -0.48 L20.87 -0.97 L21.37 -1.45 M15.90 -1.45 L18.39 0.00 L20.38 0.00 L20.87 -0.48 L21.37 -1.45 L21.37 -2.42"/>
<path transform="translate(38.46 175.74)" d="M2.98 -8.21 L3.98 -8.69 L5.47 -10.14 L5.47 0.00 M4.97 -9.66 L4.97 0.00 M2.98 0.00 L7.46 0.00 M14.41 -10.14 L12.92 -9.66 L11.93 -8.21 L11.43 -5.80 L11.43 -4.35 L11.93 -1.93 L12.92 -0.48 L14.41 0.00 L15.41 0.00 L16.90 -0.48 L17.89 -1.93 L18.39 -4.35 L18.39 -5.80 L17.89 -8.21 L16.90 -9.66 L15.41 -10.14 L14.41 -10.14 M14.41 -10.14 L13.42 -9.66 L12.92 -9.18 L12.43 -8.21 L11.93 -5.80 L11.93 -4.35 L12.43 -1.93 L12.92 -0.97 L13.42 -0.48 L14.41 0.00 M15.41 0.00 L16.40 -0.48 L16.90 -0.97 L17.39 -1.93 L17.89 -4.35 L17.89 -5.80 L17.39 -8.21 L16.90 -9.18 L16.40 -9.66 L15.41 -10.14"/>
<path transform="translate(58.34 167.94)" d="M1.99 -4.35 L10.93 -4.35 M18.89 -9.18 L18.89 0.00 M19.38 -10.14 L19.38 0.00 M19.38 -10.14 L13.92 -2.90 L21.87 -2.90 M17.39 0.00 L20.87 0.00"/>
<path transform="translate(38.46 241.86)" d="M2.98 -8.21 L3.98 -8.69 L5.47 -10.14 L5.47 0.00 M4.97 -9.66 L4.97 0.00 M2.98 0.00 L7.46 0.00 M14.41 -10.14 L12.92 -9.66 L11.93 -8.21 L11.43 -5.80 L11.43 -4.35 L11.93 -1.93 L12.92 -0.48 L14.41 0.00 L15.41 0.00 L16.90 -0.48 L17.89 -1.93 L18.39 -4.35 L18.39 -5.80 L17.89 -8.21 L16.90 -9.66 L15.41 -10.14 L14.41 -10.14 M14.41 -10.14 L13.42 -9.66 L12.92 -9.18 L12.43 -8.21 L11.93 -5.80 L11.93 -4.35 L12.43 -1.93 L12.92 -0.97 L13.42 -0.48 L14.41 0.00 M15.41 0.00 L16.40 -0.48 L16.90 -0.97 L17.39 -1.93 L17.89 -4.35 L17.89 -5.80 L17.39 -8.21 L16.90 -9.18 L16.40 -9.66 L15.41 -10.14"/>
<path transform="translate(58.34 234.06)" d="M1.99 -4.35 L10.93 -4.35 M20.38 -8.69 L19.88 -8.21 L20.38 -7.73 L20.87 -8.21 L20.87 -8.69 L20.38 -9.66 L19.38 -10.14 L17.89 -10.14 L16.40 -9.66 L15.41 -8.69 L14.91 -7.73 L14.41 -5.80 L14.41 -2.90 L14.91 -1.45 L15.90 -0.48 L17.39 0.00 L18.39 0.00 L19.88 -0.48 L20.87 -1.45 L21.37 -2.90 L21.37 -3.38 L20.87 -4.83 L19.88 -5.80 L18.39 -6.28 L17.89 -6.28 L16.40 -5.80 L15.41 -4.83 L14.91 -3.38 M17.89 -10.14 L16.90 -9.66 L15.90 -8.69 L15.41 -7.73 L14.91 -5.80 L14.91 -2.90 L15.41 -1.45 L16.40 -0.48 L17.39 0.00 M18.39 0.00 L19.38 -0.48 L20.38 -1.45 L20.87 -2.90 L20.87 -3.38 L20.38 -4.83 L19.38 -5.80 L18.39 -6.28"/>
<path transform="translate(38.46 307.98)" d="M2.98 -8.21 L3.98 -8.69 L5.47 -10.14 L5.47 0.00 M4.97 -9.66 L4.97 0.00 M2.98 0.00 L7.46 0.00 M14.41 -10.14 L12.92 -9.66 L11.93 -8.21 L11.43 -5.80 L11.43 -4.35 L11.93 -1.93 L12.92 -0.48 L14.41 0.00 L15.41 0.00 L16.90 -0.48 L17.89 -1.93 L18.39 -4.35 L18.39 -5.80 L17.89 -8.21 L16.90 -9.66 L15.41 -10.14 L14.41 -10.14 M14.41 -10.14 L13.42 -9.66 L12.92 -9.18 L12.43 -8.21 L11.93 -5.80 L11.93 -4.35 L12.43 -1.93 L12.92 -0.97 L13.42 -0.48 L14.41 0.00 M15.41 0.00 L16.40 -0.48 L16.90 -0.97 L17.39 -1.93 L17.89 -4.35 L17.89 -5.80 L17.39 -8.21 L16.90 -9.18 L16.40 -9.66 L15.41 -10.14"/>
<path transform="translate(58.34 300.18)" d="M1.99 -4.35 L10.93 -4.35 M16.90 -10.14 L15.41 -9.66 L14.91 -8.69 L14.91 -7.25 L15.41 -6.28 L16.90 -5.80 L18.89 -5.80 L20.38 -6.28 L20.87 -7.25 L20.87 -8.69 L20.38 -9.66 L18.89 -10.14 L16.90 -10.14 M16.90 -10.14 L15.90 -9.66 L15.41 -8.69 L15.41 -7.25 L15.90 -6.28 L16.90 -5.80 M18.89 -5.80 L19.88 -6.28 L20.38 -7.25 L20.38 -8.69 L19.88 -9.66 L18.89 -10.14 M16.90 -5.80 L15.41 -5.31 L14.91 -4.83 L14.41 -3.86 L14.41 -1.93 L14.91 -0.97 L15.41 -0.48 L16.90 0.00 L18.89 0.00 L20.38 -0.48 L20.87 -0.97 L21.37 -1.93 L21.37 -3.86 L20.87 -4.83 L20.38 -5.31 L18.89 -5.80 M16.90 -5.80 L15.90 -5.31 L15.41 -4.83 L14.91 -3.86 L14.91 -1.93 L15.41 -0.97 L15.90 -0.48 L16.90 0.00 M18.89 0.00 L19.88 -0.48 L20.38 -0.97 L20.87 -1.93 L20.87 -3.86 L20.38 -4.83 L19.88 -5.31 L18.89 -5.80"/>
<path transform="translate(212.15 351.0)" d="M5.33 -12.68 L4.37 -11.62 L3.40 -10.04 L2.42 -7.93 L1.94 -5.29 L1.94 -3.17 L2.42 -0.53 L3.40 1.58 L4.37 3.16 L5.33 4.22 M4.37 -11.62 L3.40 -9.51 L2.91 -7.93 L2.42 -5.29 L2.42 -3.17 L2.91 -0.53 L3.40 1.05 L4.37 3.16 M10.45 -7.99 L11.42 -8.46 L12.88 -9.87 L12.88 0.00 M12.39 -9.40 L12.39 0.00 M10.45 0.00 L14.82 0.00 M24.29 -8.46 L24.29 0.00 M19.93 -4.23 L28.66 -4.23 M38.14 -6.58 L32.80 0.00 M38.62 -6.58 L33.29 0.00 M33.29 -6.58 L32.80 -4.70 L32.80 -6.58 L38.62 -6.58 M32.80 0.00 L38.62 0.00 L38.62 -1.88 L38.14 0.00 M42.29 -12.68 L43.26 -11.62 L44.23 -10.04 L45.20 -7.93 L45.68 -5.29 L45.68 -3.17 L45.20 -0.53 L44.23 1.58 L43.26 3.16 L42.29 4.22 M43.26 -11.62 L44.23 -9.51 L44.71 -7.93 L45.20 -5.29 L45.20 -3.17 L44.71 -0.53 L44.23 1.05 L43.26 3.16"/>
<path transform="translate(24.2 276.0) rotate(-90)" d="M7.65 -5.45 L7.14 -4.95 L7.65 -4.46 L8.16 -4.95 L8.16 -5.45 L7.14 -6.43 L6.12 -6.93 L4.59 -6.93 L3.06 -6.43 L2.04 -5.45 L1.53 -3.96 L1.53 -2.97 L2.04 -1.48 L3.06 -0.49 L4.59 0.00 L5.61 0.00 L7.14 -0.49 L8.16 -1.48 M4.59 -6.93 L3.57 -6.43 L2.55 -5.45 L2.04 -3.96 L2.04 -2.97 L2.55 -1.48 L3.57 -0.49 L4.59 0.00 M14.28 -6.93 L12.75 -6.43 L11.73 -5.45 L11.22 -3.96 L11.22 -2.97 L11.73 -1.48 L12.75 -0.49 L14.28 0.00 L15.30 0.00 L16.83 -0.49 L17.85 -1.48 L18.36 -2.97 L18.36 -3.96 L17.85 -5.45 L16.83 -6.43 L15.30 -6.93 L14.28 -6.93 M14.28 -6.93 L13.26 -6.43 L12.24 -5.45 L11.73 -3.96 L11.73 -2.97 L12.24 -1.48 L13.26 -0.49 L14.28 0.00 M15.30 0.00 L16.32 -0.49 L17.34 -1.48 L17.85 -2.97 L17.85 -3.96 L17.34 -5.45 L16.32 -6.43 L15.30 -6.93 M22.44 -10.39 L22.44 0.00 M22.95 -10.39 L22.95 0.00 M20.91 -10.39 L22.95 -10.39 M20.91 0.00 L24.48 0.00 M28.05 -10.39 L28.05 0.00 M28.56 -10.39 L28.56 0.00 M26.52 -10.39 L28.56 -10.39 M26.52 0.00 L30.09 0.00 M33.66 -5.94 L33.66 -5.45 L33.15 -5.45 L33.15 -5.94 L33.66 -6.43 L34.68 -6.93 L36.72 -6.93 L37.74 -6.43 L38.25 -5.94 L38.76 -4.95 L38.76 -1.48 L39.27 -0.49 L39.78 0.00 M38.25 -5.94 L38.25 -1.48 L38.76 -0.49 L39.78 0.00 L40.29 0.00 M38.25 -4.95 L37.74 -4.46 L34.68 -3.96 L33.15 -3.46 L32.64 -2.48 L32.64 -1.48 L33.15 -0.49 L34.68 0.00 L36.21 0.00 L37.23 -0.49 L38.25 -1.48 M34.68 -3.96 L33.66 -3.46 L33.15 -2.48 L33.15 -1.48 L33.66 -0.49 L34.68 0.00 M43.86 -6.93 L43.86 3.46 M44.37 -6.93 L44.37 3.46 M44.37 -5.45 L45.39 -6.43 L46.41 -6.93 L47.43 -6.93 L48.96 -6.43 L49.98 -5.45 L50.49 -3.96 L50.49 -2.97 L49.98 -1.48 L48.96 -0.49 L47.43 0.00 L46.41 0.00 L45.39 -0.49 L44.37 -1.48 M47.43 -6.93 L48.45 -6.43 L49.47 -5.45 L49.98 -3.96 L49.98 -2.97 L49.47 -1.48 L48.45 -0.49 L47.43 0.00 M42.33 -6.93 L44.37 -6.93 M42.33 3.46 L45.90 3.46 M58.65 -5.94 L59.16 -6.93 L59.16 -4.95 L58.65 -5.94 L58.14 -6.43 L57.12 -6.93 L55.08 -6.93 L54.06 -6.43 L53.55 -5.94 L53.55 -4.95 L54.06 -4.46 L55.08 -3.96 L57.63 -2.97 L58.65 -2.48 L59.16 -1.98 M53.55 -5.45 L54.06 -4.95 L55.08 -4.46 L57.63 -3.46 L58.65 -2.97 L59.16 -2.48 L59.16 -0.99 L58.65 -0.49 L57.63 0.00 L55.59 0.00 L54.57 -0.49 L54.06 -0.99 L53.55 -1.98 L53.55 0.00 L54.06 -0.99 M62.73 -3.96 L68.85 -3.96 L68.85 -4.95 L68.34 -5.94 L67.83 -6.43 L66.81 -6.93 L65.28 -6.93 L63.75 -6.43 L62.73 -5.45 L62.22 -3.96 L62.22 -2.97 L62.73 -1.48 L63.75 -0.49 L65.28 0.00 L66.30 0.00 L67.83 -0.49 L68.85 -1.48 M68.34 -3.96 L68.34 -5.45 L67.83 -6.43 M65.28 -6.93 L64.26 -6.43 L63.24 -5.45 L62.73 -3.96 L62.73 -2.97 L63.24 -1.48 L64.26 -0.49 L65.28 0.00 M78.03 -10.39 L78.03 0.00 M78.54 -10.39 L78.54 0.00 M78.03 -5.45 L77.01 -6.43 L75.99 -6.93 L74.97 -6.93 L73.44 -6.43 L72.42 -5.45 L71.91 -3.96 L71.91 -2.97 L72.42 -1.48 L73.44 -0.49 L74.97 0.00 L75.99 0.00 L77.01 -0.49 L78.03 -1.48 M74.97 -6.93 L73.95 -6.43 L72.93 -5.45 L72.42 -3.96 L72.42 -2.97 L72.93 -1.48 L73.95 -0.49 L74.97 0.00 M76.50 -10.39 L78.54 -10.39 M78.03 0.00 L80.07 0.00 M91.80 -6.93 L91.80 0.00 M92.31 -6.93 L92.31 0.00 M92.31 -5.45 L93.33 -6.43 L94.86 -6.93 L95.88 -6.93 L97.41 -6.43 L97.92 -5.45 L97.92 0.00 M95.88 -6.93 L96.90 -6.43 L97.41 -5.45 L97.41 0.00 M97.92 -5.45 L98.94 -6.43 L100.47 -6.93 L101.49 -6.93 L103.02 -6.43 L103.53 -5.45 L103.53 0.00 M101.49 -6.93 L102.51 -6.43 L103.02 -5.45 L103.02 0.00 M90.27 -6.93 L92.31 -6.93 M90.27 0.00 L93.84 0.00 M95.88 0.00 L99.45 0.00 M101.49 0.00 L105.06 0.00 M108.63 -5.94 L108.63 -5.45 L108.12 -5.45 L108.12 -5.94 L108.63 -6.43 L109.65 -6.93 L111.69 -6.93 L112.71 -6.43 L113.22 -5.94 L113.73 -4.95 L113.73 -1.48 L114.24 -0.49 L114.75 0.00 M113.22 -5.94 L113.22 -1.48 L113.73 -0.49 L114.75 0.00 L115.26 0.00 M113.22 -4.95 L112.71 -4.46 L109.65 -3.96 L108.12 -3.46 L107.61 -2.48 L107.61 -1.48 L108.12 -0.49 L109.65 0.00 L111.18 0.00 L112.20 -0.49 L113.22 -1.48 M109.65 -3.96 L108.63 -3.46 L108.12 -2.48 L108.12 -1.48 L108.63 -0.49 L109.65 0.00 M122.91 -5.94 L123.42 -6.93 L123.42 -4.95 L122.91 -5.94 L122.40 -6.43 L121.38 -6.93 L119.34 -6.93 L118.32 -6.43 L117.81 -5.94 L117.81 -4.95 L118.32 -4.46 L119.34 -3.96 L121.89 -2.97 L122.91 -2.48 L123.42 -1.98 M117.81 -5.45 L118.32 -4.95 L119.34 -4.46 L121.89 -3.46 L122.91 -2.97 L123.42 -2.48 L123.42 -0.99 L122.91 -0.49 L121.89 0.00 L119.85 0.00 L118.83 -0.49 L118.32 -0.99 L117.81 -1.98 L117.81 0.00 L118.32 -0.99 M131.58 -5.94 L132.09 -6.93 L132.09 -4.95 L131.58 -5.94 L131.07 -6.43 L130.05 -6.93 L128.01 -6.93 L126.99 -6.43 L126.48 -5.94 L126.48 -4.95 L126.99 -4.46 L128.01 -3.96 L130.56 -2.97 L131.58 -2.48 L132.09 -1.98 M126.48 -5.45 L126.99 -4.95 L128.01 -4.46 L130.56 -3.46 L131.58 -2.97 L132.09 -2.48 L132.09 -0.99 L131.58 -0.49 L130.56 0.00 L128.52 0.00 L127.50 -0.49 L126.99 -0.99 L126.48 -1.98 L126.48 0.00 L126.99 -0.99 M146.88 -9.90 L146.37 -9.40 L146.88 -8.91 L147.39 -9.40 L147.39 -9.90 L146.88 -10.39 L145.86 -10.39 L144.84 -9.90 L144.33 -8.91 L144.33 0.00 M145.86 -10.39 L145.35 -9.90 L144.84 -8.91 L144.84 0.00 M142.80 -6.93 L146.88 -6.93 M142.80 0.00 L146.37 0.00 M150.96 -6.93 L150.96 0.00 M151.47 -6.93 L151.47 0.00 M151.47 -3.96 L151.98 -5.45 L153.00 -6.43 L154.02 -6.93 L155.55 -6.93 L156.06 -6.43 L156.06 -5.94 L155.55 -5.45 L155.04 -5.94 L155.55 -6.43 M149.43 -6.93 L151.47 -6.93 M149.43 0.00 L153.00 0.00 M159.63 -5.94 L159.63 -5.45 L159.12 -5.45 L159.12 -5.94 L159.63 -6.43 L160.65 -6.93 L162.69 -6.93 L163.71 -6.43 L164.22 -5.94 L164.73 -4.95 L164.73 -1.48 L165.24 -0.49 L165.75 0.00 M164.22 -5.94 L164.22 -1.48 L164.73 -0.49 L165.75 0.00 L166.26 0.00 M164.22 -4.95 L163.71 -4.46 L160.65 -3.96 L159.12 -3.46 L158.61 -2.48 L158.61 -1.48 L159.12 -0.49 L160.65 0.00 L162.18 0.00 L163.20 -0.49 L164.22 -1.48 M160.65 -3.96 L159.63 -3.46 L159.12 -2.48 L159.12 -1.48 L159.63 -0.49 L160.65 0.00 M174.93 -5.45 L174.42 -4.95 L174.93 -4.46 L175.44 -4.95 L175.44 -5.45 L174.42 -6.43 L173.40 -6.93 L171.87 -6.93 L170.34 -6.43 L169.32 -5.45 L168.81 -3.96 L168.81 -2.97 L169.32 -1.48 L170.34 -0.49 L171.87 0.00 L172.89 0.00 L174.42 -0.49 L175.44 -1.48 M171.87 -6.93 L170.85 -6.43 L169.83 -5.45 L169.32 -3.96 L169.32 -2.97 L169.83 -1.48 L170.85 -0.49 L171.87 0.00 M179.52 -10.39 L179.52 -1.98 L180.03 -0.49 L181.05 0.00 L182.07 0.00 L183.09 -0.49 L183.60 -1.48 M180.03 -10.39 L180.03 -1.98 L180.54 -0.49 L181.05 0.00 M177.99 -6.93 L182.07 -6.93 M187.17 -10.39 L186.66 -9.90 L187.17 -9.40 L187.68 -9.90 L187.17 -10.39 M187.17 -6.93 L187.17 0.00 M187.68 -6.93 L187.68 0.00 M185.64 -6.93 L187.68 -6.93 M185.64 0.00 L189.21 0.00 M194.82 -6.93 L193.29 -6.43 L192.27 -5.45 L191.76 -3.96 L191.76 -2.97 L192.27 -1.48 L193.29 -0.49 L194.82 0.00 L195.84 0.00 L197.37 -0.49 L198.39 -1.48 L198.90 -2.97 L198.90 -3.96 L198.39 -5.45 L197.37 -6.43 L195.84 -6.93 L194.82 -6.93 M194.82 -6.93 L193.80 -6.43 L192.78 -5.45 L192.27 -3.96 L192.27 -2.97 L192.78 -1.48 L193.80 -0.49 L194.82 0.00 M195.84 0.00 L196.86 -0.49 L197.88 -1.48 L198.39 -2.97 L198.39 -3.96 L197.88 -5.45 L196.86 -6.43 L195.84 -6.93 M202.98 -6.93 L202.98 0.00 M203.49 -6.93 L203.49 0.00 M203.49 -5.45 L204.51 -6.43 L206.04 -6.93 L207.06 -6.93 L208.59 -6.43 L209.10 -5.45 L209.10 0.00 M207.06 -6.93 L208.08 -6.43 L208.59 -5.45 L208.59 0.00 M201.45 -6.93 L203.49 -6.93 M201.45 0.00 L205.02 0.00 M207.06 0.00 L210.63 0.00"/>
</g>
</svg>
</body></html>
